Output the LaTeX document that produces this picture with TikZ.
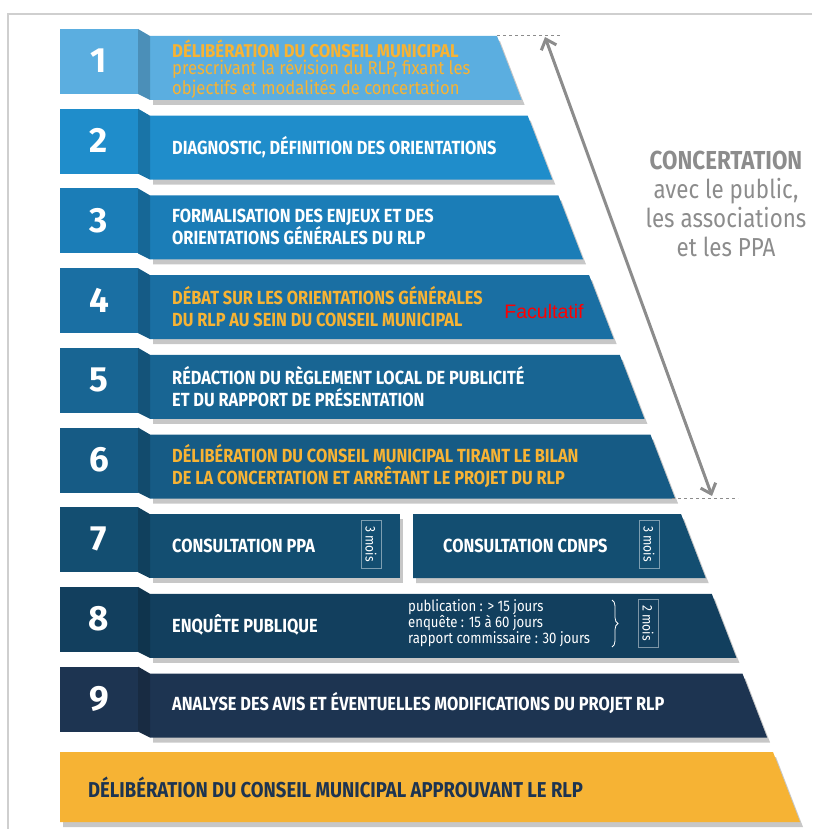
\documentclass[tikz,border=0pt]{standalone}
\usepackage{fontspec}
\setmainfont{Fira Sans}[FakeStretch=0.86]
\newfontfamily\firstfont{Fira Sans}[FakeStretch=0.9]
\newfontfamily\numfont{Fira Sans}
\newfontfamily\arialfont{Liberation Sans}
\usetikzlibrary{arrows.meta,shadows,decorations.pathreplacing}

\definecolor{rowa}{HTML}{5BAEE0}
\definecolor{rowb}{HTML}{1F8DCB}
\definecolor{rowc}{HTML}{1B7DB7}
\definecolor{rowd}{HTML}{1A6FA3}
\definecolor{rowe}{HTML}{186593}
\definecolor{rowf}{HTML}{165B85}
\definecolor{rowg}{HTML}{134E71}
\definecolor{rowh}{HTML}{123F5E}
\definecolor{rowi}{HTML}{1D3451}
\definecolor{finalyellow}{HTML}{F6B334}
\definecolor{orangetxt}{HTML}{F7B334}
\definecolor{arrowgray}{HTML}{8C8C8C}
\definecolor{framegray}{HTML}{CFCFCF}

\begin{document}
\begin{tikzpicture}[x=1pt,y=-1pt,
    every node/.style={inner sep=0pt},
    banshadow/.style={drop shadow={shadow xshift=3pt,shadow yshift=-5pt,opacity=0.22,fill=black}},
    numtxt/.style={text=white,font=\numfont\fontsize{35}{35}\bfseries},
    bantxt/.style={anchor=west,text=white,align=left,font=\fontsize{19}{22}\bfseries},
    smalltxt/.style={anchor=west,text=white,align=left,font=\fontsize{15.3}{16}\selectfont},
    moisbox/.style={draw=white!45!rowg,line width=0.6pt,rotate=-90,text=white,
      minimum width=48pt,minimum height=20pt,font=\fontsize{14}{14}\selectfont}]
  \useasboundingbox (0,0) rectangle (812,829);

  % frame
  \draw[framegray,line width=1.5pt] (812,14) -- (8,14) -- (8,829);

  % rows (the right edge of all banners is one line)
  \foreach \k/\col in {1/rowa,2/rowb,3/rowc,4/rowd,5/rowe,6/rowf,7/rowg,8/rowh,9/rowi}{
    \pgfmathsetmacro\yt{36+79.7*(\k-1)}
    \pgfmathsetmacro\yb{\yt+64}
    \pgfmathsetmacro\xt{497+0.385*(\yt-36)}
    \pgfmathsetmacro\xb{497+0.385*(\yb-36)}
    \ifnum\k=7
      \fill[\col,banshadow] (150,\yt) rectangle (400,\yb);
      \fill[\col,banshadow] (413,\yt) -- (\xt,\yt) -- (\xb,\yb) -- (413,\yb) -- cycle;
    \else
      \fill[\col,banshadow] (150,\yt) -- (\xt,\yt) -- (\xb,\yb) -- (150,\yb) -- cycle;
    \fi
    \fill[\col] (60,\yt-7) rectangle (138,\yt+58);
    \fill[\col!82!black] (138,\yt-7) -- (150,\yt) -- (150,\yb) -- (138,\yt+58) -- cycle;
    \node[numtxt] (n\k) at (99,\yt+25) {\k};
  }

  % final step
  \fill[finalyellow,banshadow] (60,752) -- (773,752) -- (800,822) -- (60,822) -- cycle;

  % texts
  \node[bantxt,text=orangetxt,font=\firstfont\fontsize{18.5}{17.6}\bfseries] (t1) at (172,69)
    {DÉLIBÉRATION DU CONSEIL MUNICIPAL\\{\mdseries prescrivant la révision du RLP, fixant les}\\{\mdseries objectifs et modalités de concertation}};
  \node[bantxt] (t2) at (172,147) {DIAGNOSTIC, DÉFINITION DES ORIENTATIONS};
  \node[bantxt] (t3) at (172,227) {FORMALISATION DES ENJEUX ET DES\\ORIENTATIONS GÉNÉRALES DU RLP};
  \node[bantxt,text=orangetxt] (t4) at (172,307) {DÉBAT SUR LES ORIENTATIONS GÉNÉRALES\\DU RLP AU SEIN DU CONSEIL MUNICIPAL};
  \node[text=red,font=\arialfont\fontsize{19.5}{19.5}\selectfont] (fac) at (544,312) {Facultatif};
  \node[bantxt] (t5) at (172,387) {RÉDACTION DU RÈGLEMENT LOCAL DE PUBLICITÉ\\ET DU RAPPORT DE PRÉSENTATION};
  \node[bantxt,text=orangetxt] (t6) at (172,466) {DÉLIBÉRATION DU CONSEIL MUNICIPAL TIRANT LE BILAN\\DE LA CONCERTATION ET ARRÊTANT LE PROJET DU RLP};
  \node[bantxt] (t7a) at (172,546) {CONSULTATION PPA};
  \node[moisbox] (m7a) at (371,544) {3 mois};
  \node[bantxt] (t7b) at (443,546) {CONSULTATION CDNPS};
  \node[moisbox] (m7b) at (649,544) {3 mois};
  \node[bantxt] (t8) at (172,625) {ENQUÊTE PUBLIQUE};
  \node[smalltxt] (d8) at (408,623) {publication : > 15 jours\\enquête : 15 à 60 jours\\rapport commissaire : 30 jours};
  \coordinate (bra) at (612,600);
  \coordinate (brb) at (612,647);
  \draw[white,line width=0.8pt,decorate,decoration={brace,amplitude=6pt}] (bra) -- (brb);
  \node[moisbox,draw=white!45!rowh] (m8) at (648,623) {2 mois};
  \node[bantxt] (t9) at (172,703) {ANALYSE DES AVIS ET ÉVENTUELLES MODIFICATIONS DU PROJET RLP};
  \node[bantxt,text=rowi,font=\fontsize{21.5}{21.5}\bfseries] (tf) at (88,787) {DÉLIBÉRATION DU CONSEIL MUNICIPAL APPROUVANT LE RLP};

  % concertation
  \coordinate (ra) at (497,36);
  \coordinate (rb) at (672,498.5);
  \coordinate (da) at (560,36);
  \coordinate (db) at (738,498.5);
  \draw[arrowgray,dashed,line width=1pt] (ra) -- (da);
  \draw[arrowgray,dashed,line width=1pt] (rb) -- (db);
  \coordinate (atop) at (545,37);
  \coordinate (abot) at (712,496);
  \draw[arrowgray,line width=3pt,{Straight Barb[length=9pt,width=16pt]}-{Straight Barb[length=9pt,width=16pt]}] (atop) -- (abot);
  \node[text=arrowgray,align=center,font=\fontsize{26}{29}\selectfont] (conc) at (726,204)
    {{\bfseries CONCERTATION}\\avec le public,\\les associations\\et les PPA};
\end{tikzpicture}
\end{document}
